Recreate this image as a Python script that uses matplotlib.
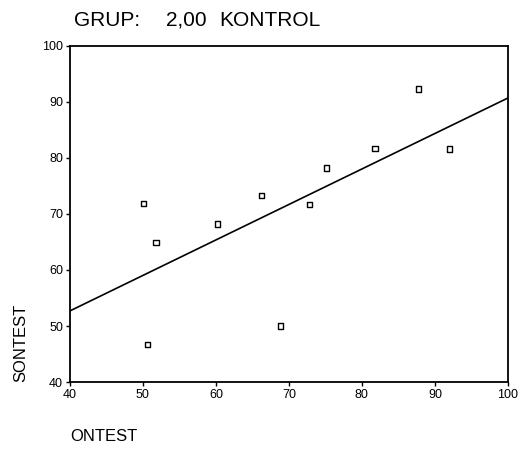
import numpy as np
import matplotlib
matplotlib.use("Agg")
import matplotlib.pyplot as plt

plt.rcParams['font.family'] = ['Liberation Sans', 'DejaVu Sans']

# ONTEST / SONTEST values
ontest = [50.1, 51.8, 50.6, 60.2, 66.2, 68.9, 72.8, 75.2, 81.8, 87.7, 92.0]
sontest = [71.8, 64.9, 46.7, 68.2, 73.3, 50.0, 71.7, 78.2, 81.7, 92.3, 81.6]

# fitted line as drawn (ends at the axis limits)
fit_x = [40, 100]
fit_y = [52.7, 90.7]

ticks = [40, 50, 60, 70, 80, 90, 100]
title_parts = ['GRUP:', '2,00', 'KONTROL']
title_x = [74, 166, 219]  # pixel starts

fig = plt.figure(figsize=(5.22, 4.5), dpi=100)
ax = fig.add_axes([0.134, 0.151, 0.839, 0.747])

ax.plot(fit_x, fit_y, color='black', lw=1.2)
ax.scatter(ontest, sontest, marker='s', s=14, facecolors='none',
           edgecolors='black', linewidths=1.0, zorder=3)

ax.set_xlim(40, 100)
ax.set_ylim(40, 100)
ax.set_xticks(ticks)
ax.set_yticks(ticks)
ax.tick_params(direction='out', length=3, width=1, labelsize=9, pad=2)
for s in ax.spines.values():
    s.set_linewidth(1.3)

ax.set_xlabel('ONTEST', fontsize=12, loc='left', labelpad=20)
ax.set_ylabel('SONTEST', fontsize=12, loc='bottom', labelpad=10)

for txt, px in zip(title_parts, title_x):
    fig.text(px / 522, 1 - 20 / 450, txt, fontsize=15, ha='left', va='center')

fig.savefig('out.png', dpi=100)
